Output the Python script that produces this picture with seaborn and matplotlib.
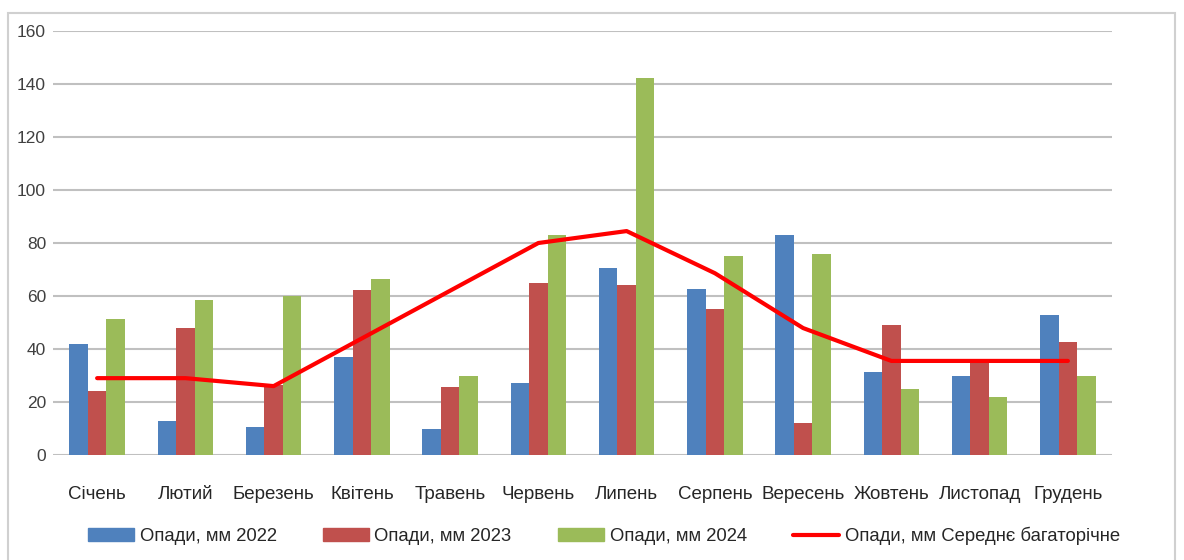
import pandas as pd
import numpy as np
import matplotlib
matplotlib.use("Agg")
import matplotlib.pyplot as plt
import matplotlib.patches as mpatches
import seaborn as sns

months = ['Січень', 'Лютий', 'Березень', 'Квітень', 'Травень', 'Червень',
          'Липень', 'Серпень', 'Вересень', 'Жовтень', 'Листопад', 'Грудень']
rain_2022 = [42, 12.8, 10.6, 37, 9.8, 27.2, 70.6, 62.6, 83, 31.3, 29.8, 52.8]
rain_2023 = [24, 47.9, 26.5, 62.3, 25.7, 65, 64.2, 55, 12, 49, 36, 42.6]
rain_2024 = [51.3, 58.5, 60, 66.4, 29.8, 83, 142.3, 75.1, 75.8, 24.9, 21.9, 29.8]
rain_avg = [29, 29, 26, 44, 62, 80, 84.5, 68.6, 47.9, 35.5, 35.5, 35.5]

series = ['Опади, мм 2022', 'Опади, мм 2023', 'Опади, мм 2024']
avg_label = 'Опади, мм Середнє багаторічне'
colors = ['#4F81BD', '#C0504D', '#9BBB59']

df = pd.DataFrame({
    'month': months * 3,
    'value': rain_2022 + rain_2023 + rain_2024,
    'series': [series[0]] * 12 + [series[1]] * 12 + [series[2]] * 12,
})

sns.set_style('white')
plt.rcParams['font.family'] = ['Liberation Sans', 'DejaVu Sans']

fig = plt.figure(figsize=(11.84, 5.6), dpi=100)
ax = fig.add_axes([53 / 1184, 1 - 455 / 560, (1112 - 53) / 1184, (455 - 31) / 560])

sns.barplot(data=df, x='month', y='value', hue='series', order=months,
            hue_order=series, palette=colors, width=0.63, gap=0,
            saturation=1, linewidth=0, ax=ax, legend=False)
sns.lineplot(x=np.arange(len(months)), y=rain_avg, color='#FF0000',
             linewidth=3, ax=ax, legend=False)

ax.set_ylim(0, 160)
ax.set_yticks(range(0, 161, 20))
ax.set_xlim(-0.5, 11.5)
ax.yaxis.grid(True, color='#c0c0c0', linewidth=1.5)
ax.set_axisbelow(True)
for s in ax.spines.values():
    s.set_visible(False)
ax.set_xlabel('')
ax.set_ylabel('')
ax.tick_params(axis='y', labelsize=12.5, colors='#404040', length=0, pad=5)
ax.tick_params(axis='x', labelsize=13.5, colors='#262626', length=0, pad=22)
ax.set_xticks(range(len(months)))
ax.set_xticklabels(months)

handles = [mpatches.Patch(color=c, label=l) for c, l in zip(colors, series)]
handles.append(plt.Line2D([], [], color='#FF0000', linewidth=3, label=avg_label))
fig.legend(handles=handles, loc='center', bbox_to_anchor=(0.51, 1 - 536 / 560),
           ncol=4, frameon=False, fontsize=13.3, handlelength=2.5,
           handleheight=0.75, handletextpad=0.3, columnspacing=2.5)

border = mpatches.Rectangle((8 / 1184, -0.05), (1175 - 8) / 1184, 1.05 - 13 / 560,
                            transform=fig.transFigure, fill=False,
                            edgecolor='#d0d0d0', linewidth=1.5)
fig.patches.append(border)

fig.savefig('out.png', dpi=100)
